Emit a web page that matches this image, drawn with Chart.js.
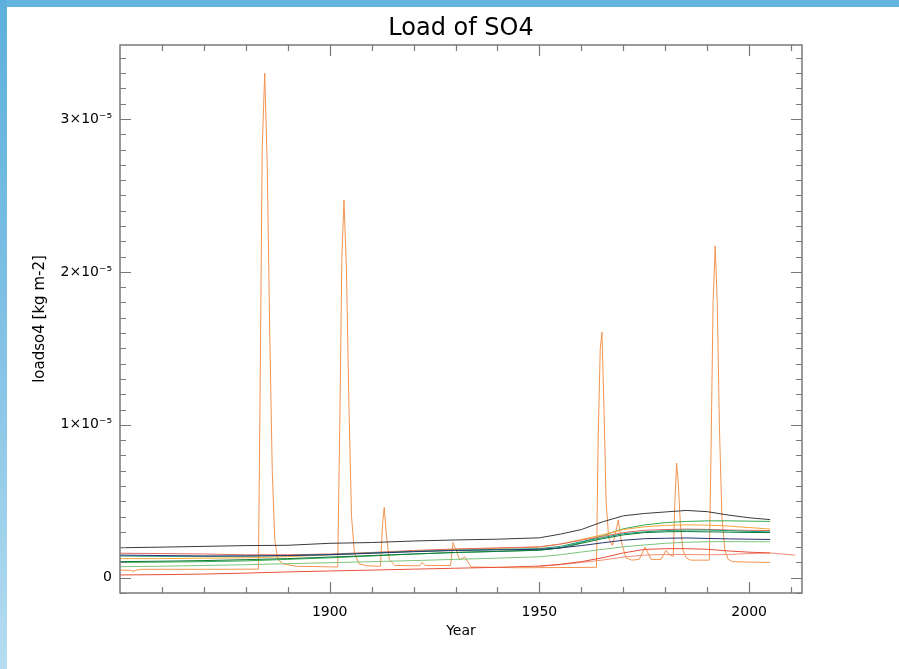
<!DOCTYPE html>
<html>
<head>
<meta charset="utf-8">
<title>Load of SO4</title>
<script src="https://cdn.jsdelivr.net/npm/chart.js@4.4.1/dist/chart.umd.min.js"></script>
<style>
  html, body { margin: 0; padding: 0; background: #fff; overflow: hidden; }
  #wrap { position: relative; width: 899px; height: 669px; }
  canvas { position: absolute; left: 0; top: 0; }
  #topband { position: absolute; left: 0; top: 0; width: 899px; height: 7px; background: #63b5df; }
  #sideband { position: absolute; left: 0; top: 0; width: 7px; height: 669px;
    background: linear-gradient(#5db0dd, #86c4e6 55%, #b6ddf1); }
</style>
</head>
<body>
<div id="wrap">
  <canvas id="so4Chart" width="899" height="669"></canvas>
  <div id="topband"></div>
  <div id="sideband"></div>
</div>
<script>
// SO4 load, all values in units of 1e-6 kg m-2

// years shared by the smooth model runs
const modelYears = [1850, 1860, 1870, 1880, 1890, 1900, 1910, 1920, 1930, 1940, 1950,
  1955, 1960, 1965, 1970, 1975, 1980, 1985, 1990, 1995, 2000, 2005];

const loadBlack     = [1.96, 2.00, 2.05, 2.10, 2.12, 2.25, 2.30, 2.40, 2.47, 2.52, 2.61,
  2.85, 3.15, 3.65, 4.05, 4.20, 4.30, 4.40, 4.32, 4.10, 3.92, 3.80];
const loadGreen     = [1.00, 1.02, 1.05, 1.10, 1.20, 1.30, 1.42, 1.55, 1.65, 1.72, 1.80,
  1.95, 2.30, 2.75, 3.20, 3.45, 3.60, 3.68, 3.72, 3.72, 3.70, 3.68];
const loadOrange    = [1.25, 1.25, 1.28, 1.30, 1.38, 1.50, 1.62, 1.75, 1.85, 1.92, 2.00,
  2.20, 2.50, 2.80, 3.15, 3.33, 3.42, 3.46, 3.44, 3.38, 3.28, 3.18];
const loadPink      = [1.60, 1.58, 1.55, 1.50, 1.50, 1.55, 1.65, 1.78, 1.88, 1.95, 2.02,
  2.20, 2.45, 2.70, 2.95, 3.10, 3.15, 3.18, 3.16, 3.12, 3.10, 3.08];
const loadTeal      = [1.42, 1.40, 1.40, 1.42, 1.45, 1.52, 1.62, 1.72, 1.80, 1.85, 1.90,
  2.05, 2.35, 2.62, 2.88, 3.00, 3.08, 3.12, 3.12, 3.08, 3.03, 3.00];
const loadDarkGreen = [1.05, 1.08, 1.12, 1.18, 1.25, 1.35, 1.45, 1.55, 1.65, 1.72, 1.80,
  1.95, 2.25, 2.55, 2.80, 2.95, 3.00, 3.02, 3.00, 2.98, 2.96, 2.95];
const loadNavy      = [1.48, 1.45, 1.42, 1.42, 1.45, 1.50, 1.60, 1.70, 1.78, 1.82, 1.86,
  1.95, 2.10, 2.28, 2.45, 2.55, 2.58, 2.60, 2.57, 2.54, 2.52, 2.50];
const loadLightGreen = [0.72, 0.75, 0.80, 0.85, 0.92, 0.98, 1.05, 1.12, 1.20, 1.28, 1.37,
  1.50, 1.68, 1.85, 2.02, 2.14, 2.25, 2.32, 2.35, 2.36, 2.35, 2.35];
const loadRed       = [0.18, 0.20, 0.24, 0.30, 0.38, 0.44, 0.50, 0.56, 0.62, 0.68, 0.76,
  0.88, 1.05, 1.30, 1.62, 1.85, 1.90, 1.90, 1.86, 1.75, 1.67, 1.62];

// run that starts in 1950 and goes on past 2005
const salmonYears = [1950, 1955, 1960, 1965, 1970, 1975, 1980, 1985, 1990, 1995, 2000, 2005, 2011];
const loadSalmon  = [0.75, 0.85, 1.00, 1.15, 1.35, 1.48, 1.52, 1.52, 1.50, 1.52, 1.58, 1.62, 1.48];

// run with volcanic eruptions (Krakatau, Santa Maria, Katmai, Agung, El Chichon, Pinatubo)
const volcYears = [1850, 1852.5, 1853.3, 1854, 1855, 1870,
  1883.0, 1883.4, 1883.9, 1884.5, 1885.1, 1885.7, 1886.3, 1886.9, 1887.6, 1889, 1892,
  1901.9, 1902.4, 1902.9, 1903.4, 1904.0, 1904.6, 1905.2, 1905.9, 1907, 1909,
  1912.1, 1912.6, 1913.0, 1913.5, 1914.2, 1915.5,
  1921.4, 1922.0, 1922.8, 1928.8, 1929.4, 1931.0, 1932.2, 1933.7, 1945,
  1963.6, 1964.0, 1964.5, 1964.9, 1965.4, 1965.9, 1966.5, 1967.4, 1968.2, 1968.8, 1969.5,
  1970.6, 1972, 1973.8, 1975.2, 1976.6, 1979, 1980.2, 1981.0, 1981.9,
  1982.3, 1982.7, 1983.1, 1983.6, 1984.2, 1985, 1986,
  1990.5, 1990.9, 1991.4, 1991.9, 1992.4, 1992.9, 1993.5, 1994.2, 1995, 1996,
  2000, 2005];
const loadVolc  = [0.50, 0.48, 0.42, 0.50, 0.55, 0.55,
  0.56, 12.0, 28.0, 33.0, 27.0, 16.0, 7.0, 2.5, 1.2, 0.9, 0.75,
  0.70, 10.0, 21.0, 24.7, 20.0, 11.0, 4.0, 1.6, 0.9, 0.78,
  0.75, 3.5, 4.6, 2.8, 1.2, 0.8,
  0.78, 1.00, 0.80, 0.80, 2.30, 1.16, 1.37, 0.70, 0.65,
  0.68, 9.0, 15.0, 16.06, 11.0, 5.0, 2.6, 2.1, 3.0, 3.77, 2.4,
  1.3, 1.15, 1.2, 2.0, 1.2, 1.2, 1.8, 1.5, 1.4,
  5.0, 7.5, 6.2, 3.5, 1.8, 1.3, 1.15,
  1.15, 8.0, 18.0, 21.7, 18.0, 10.0, 4.0, 1.8, 1.2, 1.05,
  1.02, 1.00];

// axis ticks
const xMajorTicks = [1900, 1950, 2000];
const yMajorTicks = [0, 10, 20, 30];
const yTickLabels = ['0', '1×10⁻⁵', '2×10⁻⁵', '3×10⁻⁵'];

function toPoints(years, values) {
  return years.map((yr, i) => ({ x: yr, y: values[i] }));
}

function run(years, values, color) {
  return { data: toPoints(years, values), borderColor: color, borderWidth: 1, pointRadius: 0, tension: 0 };
}

const datasets = [
  run(modelYears, loadRed, '#e8503a'),
  run(salmonYears, loadSalmon, '#f28e78'),
  run(modelYears, loadLightGreen, '#7cc47c'),
  run(modelYears, loadNavy, '#2a3370'),
  run(modelYears, loadDarkGreen, '#0b7a3a'),
  run(modelYears, loadTeal, '#159a7a'),
  run(modelYears, loadPink, '#e06a60'),
  run(modelYears, loadOrange, '#f7a535'),
  run(modelYears, loadGreen, '#36ad4f'),
  run(modelYears, loadBlack, '#3a3a3a'),
  run(volcYears, loadVolc, '#f39450')
];

// IDL style box: ticks pointing inwards on all four sides
const boxTicks = {
  id: 'boxTicks',
  afterDatasetsDraw(chart) {
    const { ctx, chartArea: a, scales: { x, y } } = chart;
    ctx.save();
    ctx.strokeStyle = '#7a7a7a';
    ctx.lineWidth = 1.5;
    ctx.strokeRect(a.left, a.top, a.right - a.left, a.bottom - a.top);
    ctx.lineWidth = 1.2;
    ctx.beginPath();
    const xTick = (v, len) => {
      const px = Math.round(x.getPixelForValue(v)) + 0.5;
      ctx.moveTo(px, a.bottom); ctx.lineTo(px, a.bottom - len);
      ctx.moveTo(px, a.top); ctx.lineTo(px, a.top + len);
    };
    const yTick = (v, len) => {
      const py = Math.round(y.getPixelForValue(v)) + 0.5;
      ctx.moveTo(a.left, py); ctx.lineTo(a.left + len, py);
      ctx.moveTo(a.right, py); ctx.lineTo(a.right - len, py);
    };
    for (let yr = 1860; yr <= 2010; yr += 10) xTick(yr, 6);
    xMajorTicks.forEach(v => xTick(v, 11));
    for (let v = -1; v <= 34; v += 1) yTick(v, 6);
    yMajorTicks.forEach(v => yTick(v, 11));
    ctx.stroke();
    ctx.restore();
  }
};

const labelFont = { family: 'DejaVu Sans', size: 14, weight: 'normal' };

const ctx = document.getElementById('so4Chart').getContext('2d');
new Chart(ctx, {
  type: 'line',
  data: { datasets },
  plugins: [boxTicks],
  options: {
    responsive: false,
    animation: false,
    layout: { padding: { left: 0, right: 97, top: 0, bottom: 0 } },
    plugins: {
      legend: { display: false },
      tooltip: { enabled: false },
      title: {
        display: true,
        text: 'Load of SO4',
        fullSize: false,
        color: '#000',
        font: { family: 'DejaVu Sans', size: 24, weight: 'normal' },
        padding: { top: 14, bottom: 2.2 }
      }
    },
    scales: {
      x: {
        type: 'linear',
        min: 1850,
        max: 2012.6,
        grid: { display: false, drawTicks: false },
        border: { display: false },
        afterBuildTicks: s => { s.ticks = xMajorTicks.map(v => ({ value: v })); },
        afterFit: s => { s.height = 76; },
        ticks: { padding: 11, color: '#000', font: labelFont, maxRotation: 0, callback: v => String(v) },
        title: { display: true, text: 'Year', color: '#000', font: labelFont, padding: { top: 0, bottom: 29.6 } }
      },
      y: {
        type: 'linear',
        min: -1,
        max: 34.84,
        grid: { display: false, drawTicks: false },
        border: { display: false },
        afterBuildTicks: s => { s.ticks = yMajorTicks.map(v => ({ value: v })); },
        afterFit: s => { s.width = 120; },
        ticks: { padding: 8, color: '#000', font: labelFont, callback: v => yTickLabels[yMajorTicks.indexOf(v)] },
        title: { display: true, text: 'loadso4 [kg m-2]', color: '#000',
          font: { family: 'DejaVu Sans', size: 15, weight: 'normal' }, padding: { top: 31, bottom: 0 } }
      }
    }
  }
});
</script>
</body>
</html>
